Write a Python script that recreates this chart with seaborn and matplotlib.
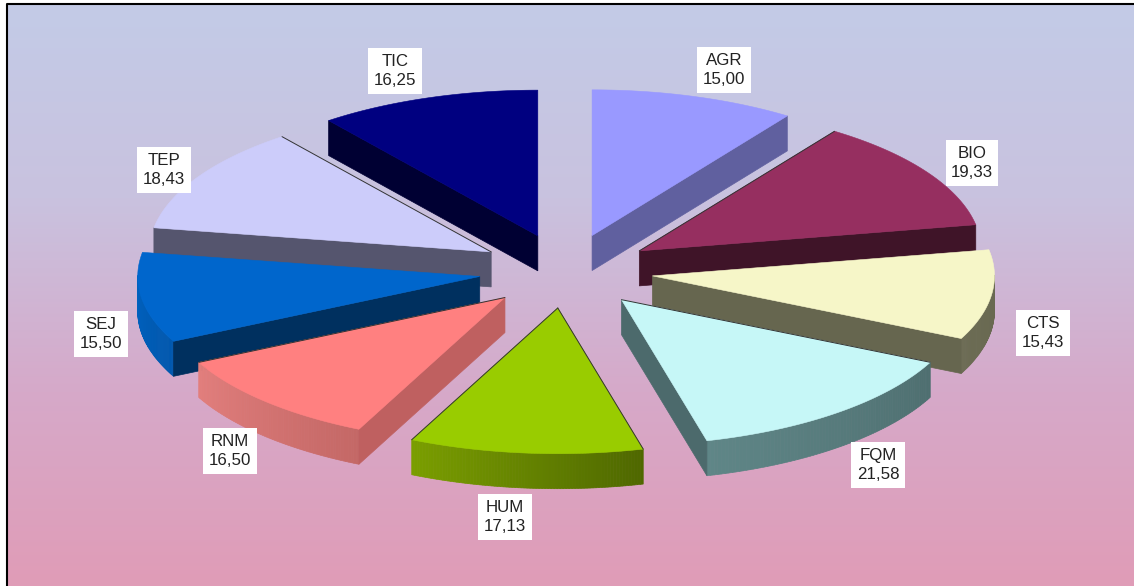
"""
Exploded 3D pie drawn by hand: matplotlib has no 3D pie, so faces are projected from the values
"""

import numpy as np
import matplotlib
matplotlib.use("Agg")
import matplotlib.pyplot as plt
import seaborn as sns
from matplotlib.patches import Polygon

# ----------------------------
# Data
# ----------------------------
areas = ["AGR", "BIO", "CTS", "FQM", "HUM", "RNM", "SEJ", "TEP", "TIC"]
values = [15.00, 19.33, 15.43, 21.58, 17.13, 16.50, 15.50, 18.43, 16.25]
value_labels = ["15,00", "19,33", "15,43", "21,58", "17,13", "16,50", "15,50", "18,43", "16,25"]

top_colors = ["#9999ff", "#962f60", "#f6f6c8", "#c6f7f7", "#99cc00",
              "#ff8080", "#0066cc", "#ccccfa", "#000080"]
cut_colors = ["#60609f", "#3f1428", "#66664f", "#4c6a6c", "#5f7f00",
              "#bf6060", "#00305f", "#55556e", "#000033"]
rim_dark = ["#60609f", "#5a1e3c", "#66664f", "#4e6f70", "#4f6800",
            "#c46866", "#0058ae", "#55556e", "#000033"]
rim_light = ["#60609f", "#5a1e3c", "#6c6c54", "#5f8687", "#7a9e00",
             "#e27e7c", "#0064c4", "#55556e", "#000033"]
# which slices show the thin dark line along their hidden cut edge
dark_edge = [False, True, False, True, True, True, False, True, False]

# label centres in figure pixels
label_xy = [(724, 70), (972, 163), (1043, 333), (878, 465), (505, 517),
            (230, 451), (101, 334), (164, 170), (395, 71)]

# ----------------------------
# Geometry of the projection
# ----------------------------
CX, CY = 566, 271
RX, RY = 342, 145.7
EXPLODE = 0.255
DEPTH = 35


def project(angle, radius=1.0):
    # angle in radians, clockwise from twelve o'clock
    return CX + RX * radius * np.sin(angle), CY - RY * radius * np.cos(angle)


# ----------------------------
# Figure + background
# ----------------------------
sns.set_theme(style="white")
plt.rcParams["font.family"] = ["Liberation Sans", "DejaVu Sans"]

fig = plt.figure(figsize=(11.34, 5.86), dpi=100, facecolor="white")
ax = fig.add_axes([0, 0, 1, 1])
ax.set_xlim(0, 1134)
ax.set_ylim(586, 0)
ax.axis("off")

bg = sns.blend_palette(["#c3cbe7", "#c9c2df", "#d6a9c9", "#e09cb7"], 256, as_cmap=True)
ax.imshow(np.linspace(0, 1, 256).reshape(-1, 1), cmap=bg, aspect="auto",
          extent=(7, 1134, 586, 4), zorder=0)
ax.set_xlim(0, 1134)
ax.set_ylim(586, 0)
ax.plot([7, 7, 1134], [586, 4, 4], color="black", lw=1.5, zorder=1)

# ----------------------------
# Slices
# ----------------------------
shares = np.array(values) / np.sum(values) * 2 * np.pi
ends = np.cumsum(shares)
starts = ends - shares
mids = (starts + ends) / 2

# back slices first
order = np.argsort(-np.cos(mids))

for rank, i in enumerate(order):
    z = 2 + rank
    t0, t1 = starts[i], ends[i]
    ox, oy = project(mids[i], EXPLODE)
    ox -= CX
    oy -= CY

    arc = np.linspace(t0, t1, 80)
    xs, ys = project(arc)
    xs, ys = xs + ox, ys + oy
    ax_, ay_ = CX + ox, CY + oy

    # outer rim, only the front half can be seen
    blend = sns.blend_palette([rim_dark[i], rim_light[i]], len(arc) - 1)
    for k in range(len(arc) - 1):
        if np.cos(arc[k]) < 0.0 or np.cos(arc[k + 1]) < 0.0:
            quad = [(xs[k], ys[k]), (xs[k + 1], ys[k + 1]),
                    (xs[k + 1], ys[k + 1] + DEPTH), (xs[k], ys[k] + DEPTH)]
            ax.add_patch(Polygon(quad, closed=True, fc=blend[k], ec=blend[k], lw=0.5, zorder=z))

    # cut faces, or a thin line where the cut is turned away
    if np.sin(t0) < 0:
        quad = [(ax_, ay_), (xs[0], ys[0]), (xs[0], ys[0] + DEPTH), (ax_, ay_ + DEPTH)]
        ax.add_patch(Polygon(quad, closed=True, fc=cut_colors[i], ec=cut_colors[i], lw=0.5, zorder=z))
    elif dark_edge[i]:
        ax.plot([ax_, xs[0]], [ay_, ys[0]], color="#333333", lw=0.7, zorder=z + 0.5)
    if np.sin(t1) > 0:
        quad = [(ax_, ay_), (xs[-1], ys[-1]), (xs[-1], ys[-1] + DEPTH), (ax_, ay_ + DEPTH)]
        ax.add_patch(Polygon(quad, closed=True, fc=cut_colors[i], ec=cut_colors[i], lw=0.5, zorder=z))
    elif dark_edge[i]:
        ax.plot([ax_, xs[-1]], [ay_, ys[-1]], color="#333333", lw=0.7, zorder=z + 0.5)

    # top face
    top = np.column_stack([np.r_[ax_, xs], np.r_[ay_, ys]])
    ax.add_patch(Polygon(top, closed=True, fc=top_colors[i], ec=top_colors[i], lw=0.4, zorder=z + 0.2))

# ----------------------------
# Labels
# ----------------------------
for name, val, (lx, ly) in zip(areas, value_labels, label_xy):
    ax.text(lx, ly, f"{name}\n{val}", ha="center", va="center", fontsize=12.2, color="#222222",
            linespacing=1.35, zorder=30,
            bbox=dict(boxstyle="square,pad=0.32", fc="white", ec="none"))

fig.savefig("out.png", dpi=100)
